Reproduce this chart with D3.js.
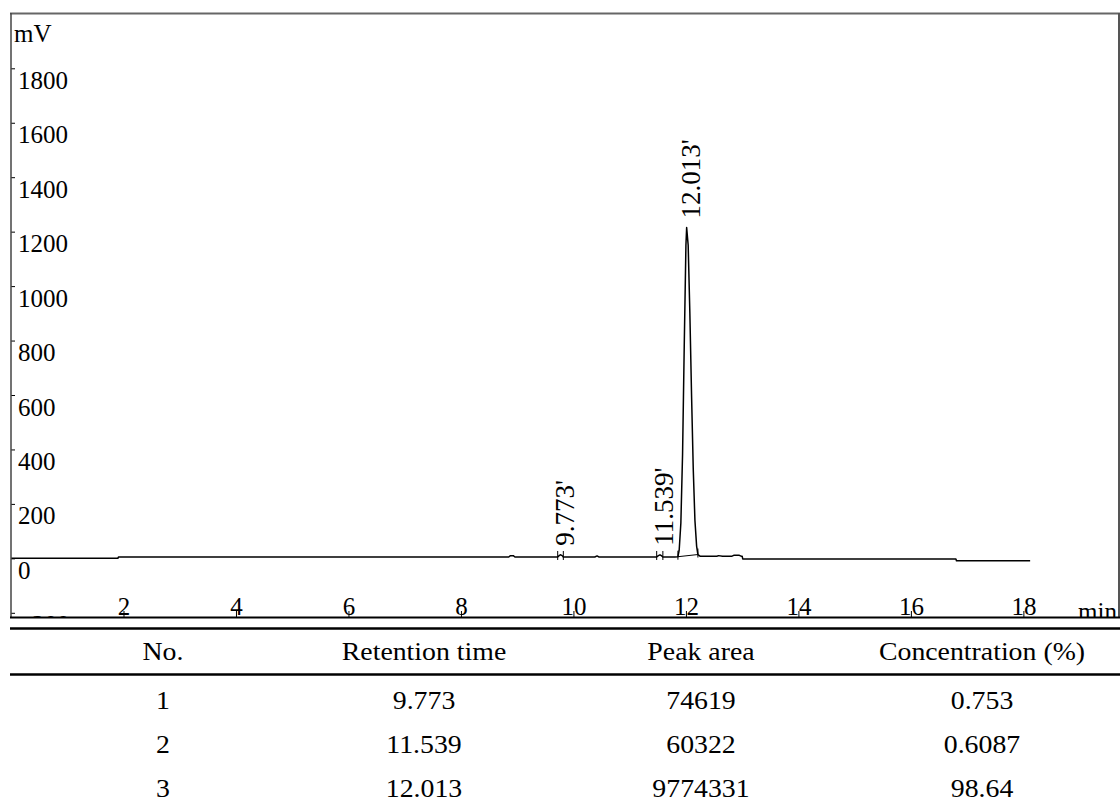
<!DOCTYPE html>
<html>
<head>
<meta charset="utf-8">
<script src="https://cdn.jsdelivr.net/npm/d3@7/dist/d3.min.js"></script>
<style>
  html, body { margin: 0; padding: 0; background: #fff; }
  svg { display: block; }
  text { font-family: "Liberation Serif", "Times New Roman", serif; fill: #000; }
</style>
</head>
<body>
<svg id="chart" width="1120" height="805"></svg>
<script>
// ---- data ----
const yTicks = [-200, 0, 200, 400, 600, 800, 1000, 1200, 1400, 1600, 1800];
const xTicks = [2, 4, 6, 8, 10, 12, 14, 16, 18];

// detector trace: time (min) and signal (mV)
const signalTime = [0, 1.9, 1.91, 8.85, 8.88, 8.93, 8.96, 9.72, 9.75, 9.773, 9.8, 9.82,
  10.38, 10.42, 10.45, 11.48, 11.51, 11.539, 11.57, 11.59, 11.8, 11.858, 11.88, 11.91,
  11.94, 11.97, 12.0, 12.013, 12.04, 12.07, 12.1, 12.13, 12.16, 12.19, 12.213, 12.25,
  12.55, 12.58, 12.65, 12.82, 12.85, 12.95, 12.98, 13.0, 13.01, 16.8, 16.81, 18.12];
const signalMV = [0, 0, 5, 5, 10, 10, 5, 5, 11, 13, 10, 5,
  5, 9, 5, 5, 10, 13, 9, 5, 5, 6, 30, 130,
  380, 780, 1150, 1215, 1150, 900, 600, 330, 140, 45, 14, 8,
  8, 10, 8, 8, 11, 11, 8, 8, -2, -2, -9, -9];

// integrated peaks
const peakTimes = [9.773, 11.539, 12.013];
const peakLabels = ["9.773'", "11.539'", "12.013'"];
const peakStart = [9.72, 11.48, 11.858];
const peakEnd = [9.82, 11.59, 12.213];

// results table
const tableHeader = ["No.", "Retention time", "Peak area", "Concentration (%)"];
const peakNo = ["1", "2", "3"];
const retentionTime = ["9.773", "11.539", "12.013"];
const peakArea = ["74619", "60322", "9774331"];
const concentration = ["0.753", "0.6087", "98.64"];

// ---- layout ----
const svg = d3.select("#chart");
const plotLeft = 11, plotRight = 1119, plotTop = 13, plotBottom = 617;

const x = d3.scaleLinear().domain([0, 19.7]).range([plotLeft, plotRight]);
const y = d3.scaleLinear().domain([-200, 1800]).range([612.8, 68.3]);

svg.append("defs").append("clipPath").attr("id", "plotClip")
  .append("rect").attr("x", plotLeft).attr("y", plotTop)
  .attr("width", plotRight - plotLeft).attr("height", plotBottom - plotTop);

const plot = svg.append("g").attr("clip-path", "url(#plotClip)");

// y axis ticks and labels
const yAxis = d3.axisRight(y).tickValues(yTicks).tickSize(4).tickFormat(d3.format("d"));
const yg = plot.append("g").attr("transform", `translate(${plotLeft},0)`).call(yAxis);
yg.select(".domain").remove();
yg.selectAll(".tick line").attr("stroke", "#000").attr("stroke-width", 1);
yg.selectAll(".tick text")
  .attr("x", 7).attr("dy", 20)
  .style("font-family", "'Liberation Serif', serif")
  .style("font-size", "25px").attr("fill", "#000");

// x axis ticks and labels (sit on the bottom frame line)
const xAxis = d3.axisTop(x).tickValues(xTicks).tickSize(6).tickFormat(d3.format("d"));
const xg = plot.append("g").attr("transform", `translate(0,${plotBottom})`).call(xAxis);
xg.select(".domain").remove();
xg.selectAll(".tick line").attr("stroke", "#000").attr("stroke-width", 1);
xg.selectAll(".tick text")
  .attr("y", -2).attr("dy", 0)
  .style("font-family", "'Liberation Serif', serif")
  .style("font-size", "25px").attr("fill", "#000");

// unit labels
svg.append("text").attr("x", 14).attr("y", 42).style("font-size", "25px").text("mV");
plot.append("text").attr("x", 1078).attr("y", 620).style("font-size", "25px").text("min");

// trace
const pts = signalTime.map((t, i) => [t, signalMV[i]]);
const line = d3.line().x(d => x(d[0])).y(d => y(d[1]));
plot.append("path").datum(pts).attr("d", line)
  .attr("fill", "none").attr("stroke", "#000").attr("stroke-width", 1.5)
  .attr("stroke-linejoin", "round");

const valueAt = t => {
  const i = d3.bisectLeft(signalTime, t);
  if (i <= 0) return signalMV[0];
  if (i >= signalTime.length) return signalMV[signalMV.length - 1];
  const t0 = signalTime[i - 1], t1 = signalTime[i];
  const v0 = signalMV[i - 1], v1 = signalMV[i];
  return t1 === t0 ? v1 : v0 + (v1 - v0) * (t - t0) / (t1 - t0);
};

// integration baseline of the main peak
plot.append("line")
  .attr("x1", x(peakStart[2])).attr("y1", y(valueAt(peakStart[2])))
  .attr("x2", x(peakEnd[2])).attr("y2", y(valueAt(peakEnd[2])))
  .attr("stroke", "#000").attr("stroke-width", 1);

// peak start / end markers
const marks = peakStart.concat(peakEnd);
plot.selectAll("line.mark").data(marks).enter().append("line")
  .attr("class", "mark")
  .attr("x1", d => x(d)).attr("x2", d => x(d))
  .attr("y1", d => y(valueAt(d)) - 6).attr("y2", d => y(valueAt(d)) + 3)
  .attr("stroke", "#000").attr("stroke-width", 1);

// peak labels
plot.selectAll("text.peak").data(peakTimes).enter().append("text")
  .attr("class", "peak")
  .attr("transform", (d, i) => `translate(${x(d) + 13},${y(valueAt(d)) - 9}) rotate(-90)`)
  .style("font-size", "27px")
  .text((d, i) => peakLabels[i]);

// frame
svg.append("line").attr("x1", plotLeft - 1).attr("x2", plotRight + 1)
  .attr("y1", plotTop + 0.5).attr("y2", plotTop + 0.5)
  .attr("stroke", "#666").attr("stroke-width", 2);
svg.append("line").attr("x1", plotRight).attr("x2", plotRight)
  .attr("y1", plotTop).attr("y2", plotBottom)
  .attr("stroke", "#555").attr("stroke-width", 2);
svg.append("line").attr("x1", plotLeft).attr("x2", plotLeft)
  .attr("y1", plotTop).attr("y2", plotBottom)
  .attr("stroke", "#444").attr("stroke-width", 1.5);
svg.append("line").attr("x1", plotLeft - 1).attr("x2", plotRight + 1)
  .attr("y1", plotBottom + 0.5).attr("y2", plotBottom + 0.5)
  .attr("stroke", "#000").attr("stroke-width", 2.2);

// ---- results table ----
const colX = d3.scaleOrdinal().domain(d3.range(4)).range([163, 424, 701, 982]);
const rowY = d3.scalePoint().domain(d3.range(3)).range([700, 788]);

svg.append("line").attr("x1", 10).attr("x2", 1120).attr("y1", 628.5).attr("y2", 628.5)
  .attr("stroke", "#000").attr("stroke-width", 2.5);
svg.append("line").attr("x1", 10).attr("x2", 1120).attr("y1", 674.5).attr("y2", 674.5)
  .attr("stroke", "#000").attr("stroke-width", 2.5);

const cellText = (sel, cy) => sel
  .attr("transform", (d, i) => `translate(${colX(i)},${cy}) scale(1.07,1)`)
  .attr("text-anchor", "middle").attr("dominant-baseline", "central")
  .style("font-size", "26px").text(d => d);

svg.selectAll("text.head").data(tableHeader).enter().append("text")
  .attr("class", "head").call(cellText, 651);

const rows = peakNo.map((n, i) => [n, retentionTime[i], peakArea[i], concentration[i]]);
rows.forEach((r, ri) => {
  svg.selectAll(`text.row${ri}`).data(r).enter().append("text")
    .attr("class", `row${ri}`).call(cellText, rowY(ri));
});
</script>
</body>
</html>
